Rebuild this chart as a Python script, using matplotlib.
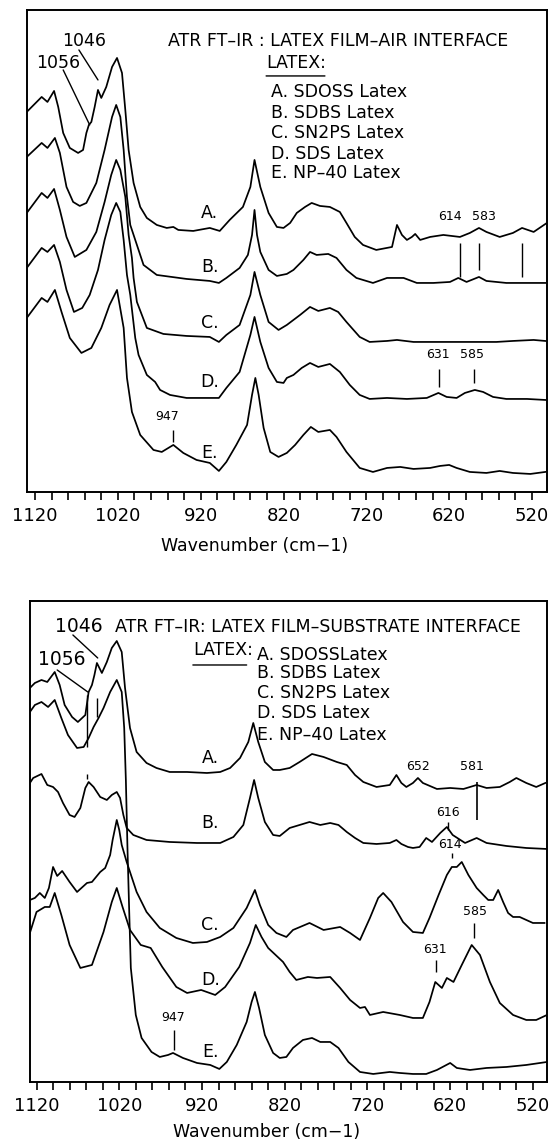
import matplotlib
matplotlib.use("Agg")
import matplotlib.pyplot as plt

# ATR FT-IR spectra, (wavenumber cm-1, absorbance in arbitrary stacked units)
# --- film-air interface ---
air_A = [(1130, 380), (1112, 395), (1105, 390), (1097, 401), (1092, 385), (1086, 359), (1078, 344),
         (1068, 339), (1062, 342), (1058, 359), (1055, 367), (1052, 370), (1048, 385), (1044, 402),
         (1040, 394), (1034, 405), (1027, 425), (1021, 434), (1015, 419), (1011, 382), (1007, 342),
         (1001, 309), (993, 285), (985, 274), (973, 267), (961, 264), (953, 265), (947, 262), (929, 261),
         (909, 264), (897, 261), (885, 272), (869, 285), (860, 305), (855, 332), (848, 305), (838, 279),
         (828, 265), (820, 264), (812, 269), (804, 279), (794, 285), (786, 289), (776, 286), (764, 285),
         (752, 280), (744, 269), (734, 255), (724, 247), (708, 242), (689, 245), (683, 267), (677, 257),
         (671, 252), (665, 255), (661, 258), (655, 252), (643, 255), (627, 257), (607, 255), (595, 259),
         (584, 264), (575, 260), (559, 255), (543, 259), (532, 264), (518, 260), (502, 269)]
air_B = [(1130, 335), (1112, 349), (1105, 344), (1096, 354), (1090, 339), (1082, 305), (1074, 290),
         (1066, 286), (1058, 289), (1046, 309), (1036, 342), (1027, 375), (1022, 387), (1017, 375),
         (1013, 342), (1009, 295), (1005, 267), (997, 247), (989, 227), (973, 217), (937, 213), (909, 211),
         (898, 209), (889, 214), (873, 224), (863, 237), (858, 257), (855, 282), (852, 257), (848, 240),
         (838, 222), (828, 216), (816, 218), (808, 222), (796, 232), (788, 240), (780, 237), (766, 238),
         (756, 234), (744, 222), (732, 214), (712, 209), (695, 214), (675, 214), (659, 209), (639, 209),
         (619, 210), (609, 214), (599, 210), (584, 215), (575, 211), (551, 209), (526, 209), (504, 209)]
air_C = [(1130, 279), (1112, 299), (1105, 294), (1097, 303), (1090, 282), (1082, 255), (1072, 235),
         (1058, 242), (1046, 260), (1036, 290), (1028, 317), (1022, 332), (1017, 322), (1011, 295),
         (1007, 257), (1003, 234), (1001, 214), (997, 190), (985, 164), (965, 158), (937, 156), (909, 155),
         (898, 150), (889, 157), (873, 167), (860, 197), (855, 220), (848, 197), (838, 170), (826, 162),
         (816, 167), (800, 177), (788, 185), (778, 181), (764, 184), (754, 180), (744, 170), (728, 155),
         (716, 150), (695, 151), (683, 152), (663, 150), (643, 150), (623, 150), (599, 150), (583, 150),
         (563, 150), (543, 151), (518, 152), (504, 151)]
air_D = [(1130, 224), (1112, 244), (1105, 240), (1097, 247), (1090, 230), (1082, 202), (1073, 180),
         (1063, 184), (1054, 197), (1044, 222), (1036, 252), (1028, 277), (1022, 289), (1017, 280),
         (1013, 252), (1009, 217), (1005, 197), (999, 154), (995, 137), (985, 117), (975, 110), (969, 102),
         (957, 97), (937, 94), (898, 94), (889, 104), (873, 120), (860, 157), (855, 175), (848, 150),
         (838, 124), (828, 110), (820, 109), (816, 114), (808, 117), (798, 124), (788, 129), (778, 125),
         (764, 128), (752, 120), (740, 107), (728, 97), (716, 93), (695, 94), (671, 93), (647, 94),
         (633, 99), (623, 95), (611, 94), (601, 99), (589, 102), (579, 100), (567, 95), (551, 93),
         (526, 93), (504, 92)]
air_E = [(1130, 174), (1112, 194), (1105, 190), (1096, 202), (1088, 180), (1078, 154), (1064, 139),
         (1052, 144), (1040, 164), (1030, 187), (1021, 202), (1013, 164), (1009, 114), (1003, 80),
         (993, 57), (977, 42), (967, 40), (959, 44), (953, 47), (941, 39), (925, 32), (909, 29), (898, 21),
         (889, 30), (877, 47), (864, 67), (858, 97), (854, 114), (850, 97), (844, 64), (836, 40), (826, 35),
         (816, 39), (806, 47), (796, 57), (787, 65), (778, 60), (764, 62), (756, 55), (744, 40), (728, 24),
         (712, 20), (695, 24), (679, 25), (663, 23), (643, 24), (631, 26), (620, 27), (611, 24), (595, 20),
         (575, 19), (559, 21), (543, 19), (522, 18), (504, 20)]

# --- film-substrate interface ---
sub_A = [(1128, 394), (1122, 399), (1114, 402), (1107, 400), (1098, 410), (1092, 397), (1086, 377),
         (1077, 365), (1070, 360), (1061, 367), (1057, 390), (1053, 397), (1050, 407), (1047, 419),
         (1041, 409), (1035, 420), (1029, 434), (1023, 441), (1017, 430), (1013, 394), (1007, 354),
         (999, 330), (987, 319), (975, 314), (959, 310), (938, 310), (914, 309), (898, 310), (886, 314),
         (874, 324), (864, 340), (858, 359), (852, 340), (844, 320), (834, 312), (826, 312), (814, 314),
         (802, 320), (787, 328), (773, 325), (757, 320), (745, 317), (735, 307), (725, 300), (709, 295),
         (693, 297), (685, 307), (679, 299), (673, 295), (665, 299), (659, 304), (653, 299), (636, 293),
         (620, 294), (604, 293), (588, 297), (576, 294), (560, 295), (548, 300), (540, 304), (528, 299),
         (516, 295), (505, 299)]
sub_B = [(1128, 299), (1124, 304), (1114, 308), (1107, 297), (1100, 295), (1094, 290), (1088, 279),
         (1080, 267), (1074, 265), (1067, 274), (1061, 294), (1057, 300), (1051, 295), (1043, 285),
         (1035, 282), (1029, 287), (1023, 290), (1019, 284), (1015, 267), (1011, 254), (1003, 247),
         (987, 242), (959, 240), (926, 239), (898, 239), (882, 245), (870, 257), (862, 284), (857, 302),
         (852, 284), (844, 260), (834, 247), (826, 246), (814, 254), (802, 257), (790, 260), (777, 257),
         (765, 259), (755, 257), (745, 250), (735, 244), (725, 239), (709, 238), (693, 239), (685, 242),
         (679, 238), (671, 235), (665, 234), (657, 235), (649, 244), (642, 240), (632, 249), (624, 255),
         (617, 247), (602, 239), (588, 244), (576, 239), (552, 236), (528, 234), (503, 233)]
sub_C = [(1128, 182), (1122, 184), (1116, 189), (1110, 184), (1105, 194), (1100, 215), (1095, 206),
         (1089, 211), (1080, 200), (1071, 190), (1059, 199), (1053, 200), (1043, 210), (1037, 214),
         (1031, 227), (1028, 242), (1023, 262), (1020, 252), (1017, 237), (1011, 220), (999, 190),
         (987, 170), (971, 154), (951, 144), (931, 139), (914, 140), (898, 145), (882, 154), (866, 174),
         (856, 192), (850, 177), (840, 157), (830, 149), (818, 145), (810, 152), (790, 159), (773, 152),
         (753, 155), (741, 149), (729, 142), (717, 164), (707, 184), (701, 189), (691, 180), (677, 160),
         (665, 150), (653, 149), (645, 164), (634, 187), (624, 207), (618, 215), (612, 215), (606, 220),
         (598, 207), (588, 194), (580, 187), (574, 182), (568, 182), (562, 192), (556, 180), (550, 169),
         (544, 165), (536, 165), (528, 162), (520, 159), (506, 159)]
sub_D = [(1128, 149), (1120, 170), (1110, 175), (1104, 175), (1098, 189), (1090, 167), (1080, 137),
         (1067, 114), (1053, 117), (1039, 150), (1029, 180), (1023, 194), (1016, 175), (1007, 152),
         (994, 137), (982, 134), (968, 115), (951, 95), (938, 89), (921, 92), (904, 87), (892, 95),
         (875, 115), (862, 139), (855, 157), (848, 145), (840, 134), (831, 127), (822, 120), (814, 110),
         (806, 102), (792, 105), (781, 104), (765, 105), (753, 94), (741, 82), (729, 74), (723, 75),
         (717, 67), (701, 70), (681, 67), (665, 64), (653, 64), (645, 80), (638, 100), (630, 94),
         (624, 104), (616, 100), (606, 117), (594, 137), (584, 127), (572, 100), (560, 79), (544, 67),
         (528, 62), (516, 62), (503, 67)]
sub_E = [(1128, 370), (1122, 377), (1114, 380), (1106, 375), (1098, 382), (1090, 364), (1082, 347),
         (1071, 334), (1063, 335), (1057, 344), (1051, 355), (1045, 364), (1039, 374), (1031, 390),
         (1023, 402), (1017, 390), (1014, 354), (1012, 302), (1010, 232), (1008, 172), (1006, 114),
         (1000, 67), (993, 44), (981, 30), (971, 25), (961, 27), (955, 29), (943, 24), (926, 19),
         (910, 17), (899, 13), (890, 20), (878, 37), (866, 60), (860, 80), (856, 90), (851, 74),
         (844, 47), (834, 29), (826, 24), (818, 25), (810, 34), (798, 42), (787, 44), (777, 40),
         (765, 40), (755, 34), (743, 20), (729, 10), (713, 8), (693, 10), (681, 9), (665, 8), (649, 8),
         (636, 12), (620, 19), (612, 14), (596, 12), (576, 14), (552, 15), (528, 17), (503, 20)]

curve_names = ["A.", "B.", "C.", "D.", "E."]
legend_air = ["A. SDOSS Latex", "B. SDBS Latex", "C. SN2PS Latex", "D. SDS Latex", "E. NP\u201340 Latex"]
legend_sub = ["A. SDOSSLatex", "B. SDBS Latex", "C. SN2PS Latex", "D. SDS Latex", "E. NP\u201340 Latex"]

FS_TICK = 13
FS_BIG = 12.5
FS_SMALL = 9


def setup(ax, xlim, ylim):
    ax.set_xlim(*xlim)
    ax.set_ylim(*ylim)
    ax.set_xticks(range(520, 1121, 100))
    ax.set_xticks(range(520, 1121, 20), minor=True)
    ax.tick_params(which="both", direction="out", length=6, width=1.2, labelsize=FS_TICK, pad=5)
    ax.set_yticks([])
    for s in ax.spines.values():
        s.set_linewidth(1.4)
    ax.set_xlabel("Wavenumber (cm\u22121)", fontsize=12.5)


def line(ax, p0, p1):
    ax.annotate("", xy=p1, xytext=p0, arrowprops=dict(arrowstyle="-", lw=1.0, color="black",
                                                      shrinkA=0, shrinkB=0))


fig = plt.figure(figsize=(5.52, 11.43), dpi=100)

# ---------------- top panel ----------------
ax1 = fig.add_axes([0.0489, 0.5696, 0.9420, 0.4217])
for pts in [air_A, air_B, air_C, air_D, air_E]:
    wn, ab = zip(*pts)
    ax1.plot(wn, ab, color="black", lw=1.25, solid_joinstyle="round")
setup(ax1, (1129.7, 501.9), (0, 482))
ax1.xaxis.set_label_coords(0.437, -0.094)

ax1.text(959, 451, "ATR FT\u2013IR : LATEX FILM\u2013AIR INTERFACE", fontsize=FS_BIG, ha="left", va="center")
ax1.text(1061, 451, "1046", fontsize=FS_BIG, ha="center", va="center")
ax1.text(1092, 429, "1056", fontsize=FS_BIG, ha="center", va="center")
line(ax1, (1067, 442), (1044, 412))
line(ax1, (1086, 422), (1054, 367))
ax1.text(841, 429, "LATEX:", fontsize=FS_BIG, ha="left", va="center")
line(ax1, (841, 416), (770, 416))
for lab, hh in zip(legend_air, [400, 379, 359, 338, 319]):
    ax1.text(835, hh, lab, fontsize=FS_BIG, ha="left", va="center")
for lab, hh in zip(curve_names, [279, 225, 169, 110, 39]):
    ax1.text(909, hh, lab, fontsize=FS_BIG, ha="center", va="center")
ax1.text(961, 75, "947", fontsize=FS_SMALL, ha="center", va="center")
ax1.vlines(953, 50, 62, color="black", lw=1)
ax1.text(619, 275, "614", fontsize=FS_SMALL, ha="center", va="center")
ax1.text(578, 275, "583", fontsize=FS_SMALL, ha="center", va="center")
ax1.vlines([607, 532], 215, 249, color="black", lw=1)
ax1.vlines(584, 222, 249, color="black", lw=1)
ax1.text(634, 137, "631", fontsize=FS_SMALL, ha="center", va="center")
ax1.text(592, 137, "585", fontsize=FS_SMALL, ha="center", va="center")
ax1.vlines(632, 105, 123, color="black", lw=1)
ax1.vlines(590, 109, 123, color="black", lw=1)

# ---------------- bottom panel ----------------
ax2 = fig.add_axes([0.0543, 0.0534, 0.9366, 0.4208])
for pts in [sub_A, sub_B, sub_C, sub_D, sub_E]:
    wn, ab = zip(*pts)
    ax2.plot(wn, ab, color="black", lw=1.25, solid_joinstyle="round")
setup(ax2, (1127.9, 503.0), (0, 481))
ax2.xaxis.set_label_coords(0.457, -0.085)

ax2.text(1025, 455, "ATR FT\u2013IR: LATEX FILM\u2013SUBSTRATE INTERFACE", fontsize=FS_BIG, ha="left", va="center")
ax2.text(1069, 455, "1046", fontsize=13.5, ha="center", va="center")
ax2.text(1089, 422, "1056", fontsize=13.5, ha="center", va="center")
line(ax2, (1076, 447), (1046, 424))
line(ax2, (1095, 412), (1058, 390))
ax2.vlines(1059, 335, 387, color="black", lw=1)
ax2.vlines(1046.5, 365, 384, color="black", lw=1)
ax2.vlines(1059, 303, 308, color="black", lw=1)
ax2.text(931, 432, "LATEX:", fontsize=FS_BIG, ha="left", va="center")
line(ax2, (931, 417), (866, 417))
for lab, hh in zip(legend_sub, [427, 409, 389, 369, 347]):
    ax2.text(853, hh, lab, fontsize=FS_BIG, ha="left", va="center")
for lab, hh in zip(curve_names, [324, 259, 157, 102, 30]):
    ax2.text(910, hh, lab, fontsize=FS_BIG, ha="center", va="center")
ax2.text(659, 315, "652", fontsize=FS_SMALL, ha="center", va="center")
ax2.text(594, 315, "581", fontsize=FS_SMALL, ha="center", va="center")
ax2.vlines(588, 262, 300, color="black", lw=1.2)
ax2.text(623, 269, "616", fontsize=FS_SMALL, ha="center", va="center")
ax2.vlines(623, 252, 260, color="black", lw=1)
ax2.text(620, 237, "614", fontsize=FS_SMALL, ha="center", va="center")
ax2.vlines(618, 224, 229, color="black", lw=1)
ax2.text(590, 170, "585", fontsize=FS_SMALL, ha="center", va="center")
ax2.vlines(591, 144, 159, color="black", lw=1)
ax2.text(638, 132, "631", fontsize=FS_SMALL, ha="center", va="center")
ax2.vlines(637, 110, 122, color="black", lw=1)
ax2.text(955, 64, "947", fontsize=FS_SMALL, ha="center", va="center")
ax2.vlines(954, 32, 52, color="black", lw=1)

fig.savefig("out.png", dpi=100)
